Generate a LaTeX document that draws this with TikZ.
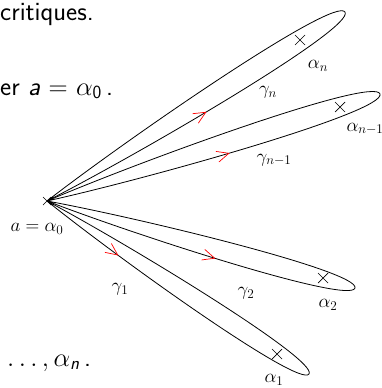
\documentclass[tikz,border=0pt]{standalone}
\usepackage{fix-cm}
\usepackage{amsmath}
\usetikzlibrary{calc,decorations.markings,arrows.meta}
\tikzset{
  petal/.style={draw, line width=0.8pt},
  mk/.style={line width=0.7pt},
  lbl/.style={font=\fontsize{19}{22}\selectfont, inner sep=0pt},
  slide/.style={font=\fontsize{26.5}{30}\selectfont\sffamily, inner sep=0pt, anchor=base west},
}
\newcommand{\petalloop}[3]{%
  \draw[petal, postaction={decorate}, decoration={markings, mark=at position #3 with {\arrow[red, line width=0.7pt]{Straight Barb[length=12pt,width=11pt]}}}]
    (#1) .. controls ($(#1)!0.3013!-5.33:(#2)$) and ($(#1)!1.0015!-3.1:(#2)$) .. (#2)
         .. controls ($(#1)!1.0015!3.1:(#2)$) and ($(#1)!0.3013!5.33:(#2)$) .. (#1);
}
\newcommand{\crossat}[2]{%
  \draw[mk] ($(#1)+(-#2,-#2)$) -- ($(#1)+(#2,#2)$) ($(#1)+(-#2,#2)$) -- ($(#1)+(#2,-#2)$);
}
\begin{document}
\begin{tikzpicture}[x=1pt,y=-1pt]
\useasboundingbox (0,0) rectangle (382,388);
\clip (0,0) rectangle (382,388);
% slide text fragments
\node[slide] (t1) at (0,20) {critiques.};
\node[slide] (t2) at (0,95) {er \textit{a} $=$ $\alpha_{\text{\sffamily 0}}$\,.};
\node[slide] (t3) at (7,366) {$\ldots,\alpha_{\text{\sffamily\itshape n}}$\,.};
% points
\coordinate (O) at (47,201);
\coordinate (Tn) at (345,12);
\coordinate (Tm) at (380,94);
\coordinate (T2) at (355,288);
\coordinate (T1) at (309,374);
\coordinate (An) at (300,40);
\coordinate (Am) at (340,107);
\coordinate (A2) at (323,278);
\coordinate (A1) at (277,354);
% loops
\petalloop{O}{Tn}{0.257}
\petalloop{O}{Tm}{0.268}
\petalloop{O}{T2}{0.276}
\petalloop{O}{T1}{0.142}
% crosses
\crossat{O}{4}
\crossat{An}{5}
\crossat{Am}{5}
\crossat{A2}{5}
\crossat{A1}{5}
% labels
\node[lbl] (l0) at (37,229) {$a=\alpha_0$};
\node[lbl] (ln) at (318,66) {$\alpha_n$};
\node[lbl] (lm) at (365,129) {$\alpha_{n-1}$};
\node[lbl] (l2) at (328,305) {$\alpha_2$};
\node[lbl] (l1) at (274,380) {$\alpha_1$};
\node[lbl] (gn) at (268,92) {$\gamma_n$};
\node[lbl] (gm) at (274,160) {$\gamma_{n-1}$};
\node[lbl] (g2) at (246,293) {$\gamma_2$};
\node[lbl] (g1) at (120,289) {$\gamma_1$};
\end{tikzpicture}
\end{document}
